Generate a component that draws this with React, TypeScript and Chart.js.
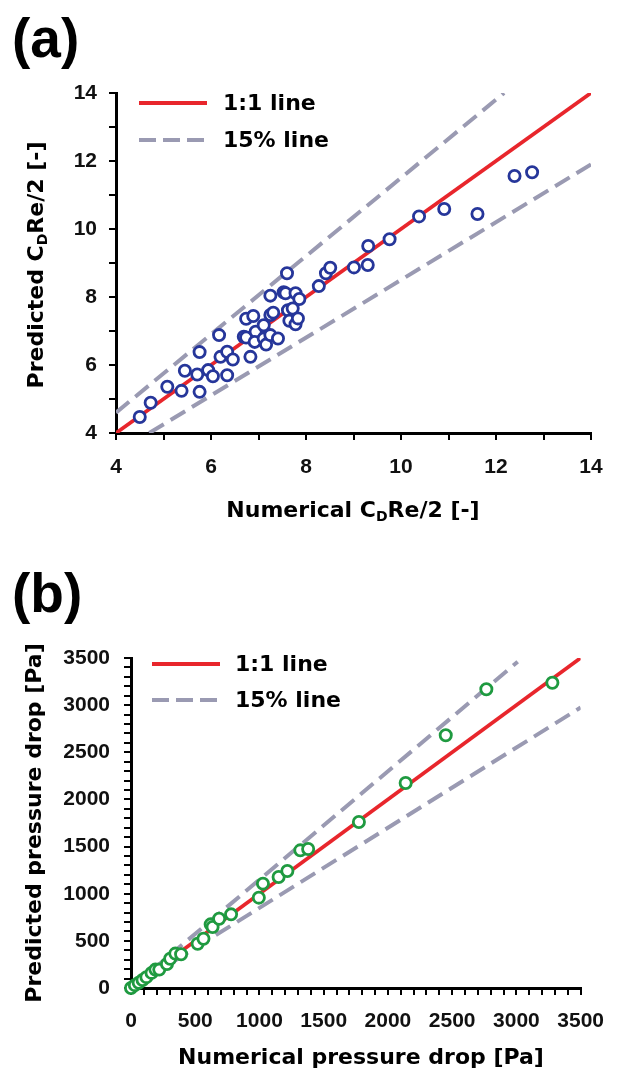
import React, { useEffect, useRef } from 'react';
import { Chart, registerables } from 'chart.js';

Chart.register(...registerables);

// ---------- Panel (a) data ----------
const numericalCd = [
  4.5, 4.73, 5.08, 5.38, 5.45, 5.76, 5.76, 5.71, 5.94, 6.04, 6.17, 6.2, 6.34, 6.34, 6.46,
  6.74, 6.89, 6.69, 6.74, 6.83, 6.94, 6.92, 7.11, 7.11, 7.16, 7.25, 7.41, 7.25, 7.31, 7.25,
  7.6, 7.53, 7.57, 7.78, 7.86, 7.62, 7.72, 7.65, 7.78, 7.83, 8.27, 8.42, 8.51, 9.01, 9.3,
  9.31, 9.76, 10.38, 10.91, 11.61, 12.39, 12.76,
];
const predictedCd = [
  4.47, 4.89, 5.36, 5.24, 5.83, 6.38, 5.21, 5.72, 5.85, 5.67, 6.88, 6.24, 6.39, 5.7, 6.16,
  7.36, 7.44, 6.83, 6.81, 6.24, 6.98, 6.68, 7.17, 6.78, 6.6, 6.88, 6.78, 7.47, 7.54, 8.04,
  8.7, 8.14, 8.11, 8.11, 7.94, 7.61, 7.66, 7.3, 7.2, 7.37, 8.32, 8.7, 8.86, 8.87, 8.94,
  9.5, 9.7, 10.37, 10.59, 10.44, 11.56, 11.67,
];
const unityAX = [4, 14];
const unityAY = [4, 14];
const upperAX = [4, 12.17];
const upperAY = [4.6, 14];
const lowerAX = [4.7, 14];
const lowerAY = [4, 11.9];
const tickLabelsA = [4, 6, 8, 10, 12, 14];

// ---------- Panel (b) data ----------
const numericalDp = [
  0, 30, 60, 90, 120, 160, 190, 220, 280, 305, 345, 390, 519, 564, 620, 635, 686, 779,
  995, 1027, 1149, 1217, 1318, 1379, 1774, 2138, 2450, 2766, 3280,
];
const predictedDp = [
  0, 30, 55, 85, 115, 160, 195, 195, 255, 310, 365, 358, 470, 523, 675, 647, 735, 781,
  958, 1107, 1177, 1241, 1460, 1474, 1761, 2174, 2680, 3168, 3238,
];
const unityBX = [0, 3500];
const unityBY = [0, 3500];
const upperBX = [0, 3010];
const upperBY = [0, 3460];
const lowerBX = [0, 3500];
const lowerBY = [0, 2975];
const tickLabelsB = [0, 500, 1000, 1500, 2000, 2500, 3000, 3500];

const legendLabels = ['1:1 line', '15% line'];

const RED = '#e8262c';
const GRAY = '#9a9ab2';
const BLUE = '#26369a';
const GREEN = '#1f9a40';
const TITLE_FONT = 'bold 22px "DejaVu Sans"';
const SUB_FONT = 'bold 14px "DejaVu Sans"';

const toPts = (xs: number[], ys: number[]) => xs.map((x, i) => ({ x, y: ys[i] }));

type Seg = { t: string; sub?: boolean };

function drawRich(ctx: CanvasRenderingContext2D, segs: Seg[], cx: number, cy: number, angle: number) {
  ctx.save();
  ctx.translate(cx, cy);
  ctx.rotate(angle);
  ctx.textBaseline = 'middle';
  ctx.textAlign = 'left';
  ctx.fillStyle = '#000';
  let total = 0;
  const widths = segs.map((s) => {
    ctx.font = s.sub ? SUB_FONT : TITLE_FONT;
    const w = ctx.measureText(s.t).width;
    total += w;
    return w;
  });
  let x = -total / 2;
  segs.forEach((s, i) => {
    ctx.font = s.sub ? SUB_FONT : TITLE_FONT;
    ctx.fillText(s.t, x, s.sub ? 6 : 0);
    x += widths[i];
  });
  ctx.restore();
}

type Decor = {
  panel: string;
  panelY: number;
  legendX0: number;
  legendX1: number;
  legendTextX: number;
  legendY: number[];
  xTitle: Seg[];
  xTitlePos: [number, number];
  yTitle: Seg[];
  yTitlePos: [number, number];
};

function makeDecor(d: Decor) {
  return {
    id: 'decor',
    afterDraw(chart: any) {
      const ctx: CanvasRenderingContext2D = chart.ctx;
      ctx.save();
      ctx.fillStyle = '#000';
      ctx.font = 'bold 55px "Liberation Sans"';
      ctx.textBaseline = 'alphabetic';
      ctx.textAlign = 'left';
      ctx.fillText(d.panel, 12, d.panelY);

      // legend
      ctx.lineCap = 'butt';
      ctx.strokeStyle = RED;
      ctx.lineWidth = 4;
      ctx.setLineDash([]);
      ctx.beginPath();
      ctx.moveTo(d.legendX0, d.legendY[0]);
      ctx.lineTo(d.legendX1, d.legendY[0]);
      ctx.stroke();
      ctx.strokeStyle = GRAY;
      ctx.setLineDash([17, 7]);
      ctx.beginPath();
      ctx.moveTo(d.legendX0, d.legendY[1]);
      ctx.lineTo(d.legendX1, d.legendY[1]);
      ctx.stroke();
      ctx.setLineDash([]);
      ctx.font = 'bold 22px "DejaVu Sans"';
      ctx.textBaseline = 'middle';
      legendLabels.forEach((l, i) => ctx.fillText(l, d.legendTextX, d.legendY[i] + 1));
      ctx.restore();

      drawRich(ctx, d.xTitle, d.xTitlePos[0], d.xTitlePos[1], 0);
      drawRich(ctx, d.yTitle, d.yTitlePos[0], d.yTitlePos[1], -Math.PI / 2);
    },
  };
}

function axis(
  min: number,
  max: number,
  step: number,
  labels: number[],
  pad: number,
  fontSize: number,
  fit: (s: any) => void,
) {
  return {
    type: 'linear',
    min,
    max,
    afterFit: fit,
    border: { display: true, color: '#000', width: 3 },
    grid: { drawOnChartArea: false, drawTicks: true, tickLength: 7, color: '#000', lineWidth: 2 },
    ticks: {
      stepSize: step,
      autoSkip: false,
      maxTicksLimit: 1000,
      maxRotation: 0,
      padding: pad,
      color: '#111',
      font: { family: '"Liberation Sans", Arial, sans-serif', size: fontSize, weight: 'bold' },
      callback: (v: any) => (labels.some((l) => Math.abs(l - Number(v)) < 1e-6) ? String(v) : ''),
    },
  };
}

function lineSet(xs: number[], ys: number[], color: string, dash: number[], width: number) {
  return {
    data: toPts(xs, ys),
    showLine: true,
    borderColor: color,
    borderWidth: width,
    borderDash: dash,
    pointRadius: 0,
    fill: false,
    order: 1,
  };
}

function markerSet(xs: number[], ys: number[], color: string) {
  return {
    data: toPts(xs, ys),
    showLine: false,
    pointRadius: 5.6,
    pointBorderWidth: 2.8,
    pointBorderColor: color,
    pointBackgroundColor: '#fff',
    clip: false,
    order: 0,
  };
}

function configA() {
  return {
    type: 'scatter',
    data: {
      datasets: [
        markerSet(numericalCd, predictedCd, BLUE),
        lineSet(upperAX, upperAY, GRAY, [17, 8], 4),
        lineSet(lowerAX, lowerAY, GRAY, [17, 8], 4),
        lineSet(unityAX, unityAY, RED, [], 3.8),
      ],
    },
    options: {
      responsive: false,
      animation: false,
      events: [],
      layout: { padding: { left: 0, top: 93, right: 27, bottom: 0 } },
      plugins: { legend: { display: false }, tooltip: { enabled: false } },
      scales: {
        x: axis(4, 14, 1, tickLabelsA, 15, 21, (s: any) => { s.height = 107; }),
        y: axis(4, 14, 1, tickLabelsA, 12, 21, (s: any) => { s.width = 116; }),
      },
    },
    plugins: [
      makeDecor({
        panel: '(a)',
        panelY: 57,
        legendX0: 139,
        legendX1: 207,
        legendTextX: 223,
        legendY: [103, 140],
        xTitle: [{ t: 'Numerical C' }, { t: 'D', sub: true }, { t: 'Re/2 [-]' }],
        xTitlePos: [353, 511],
        yTitle: [{ t: 'Predicted C' }, { t: 'D', sub: true }, { t: 'Re/2 [-]' }],
        yTitlePos: [37, 265],
      }),
    ],
  };
}

function configB() {
  return {
    type: 'scatter',
    data: {
      datasets: [
        markerSet(numericalDp, predictedDp, GREEN),
        lineSet(upperBX, upperBY, GRAY, [17, 8], 4),
        lineSet(lowerBX, lowerBY, GRAY, [17, 8], 4),
        lineSet(unityBX, unityBY, RED, [], 3.8),
      ],
    },
    options: {
      responsive: false,
      animation: false,
      events: [],
      layout: { padding: { left: 0, top: 118, right: 26, bottom: 0 } },
      plugins: { legend: { display: false }, tooltip: { enabled: false } },
      scales: {
        x: axis(0, 3500, 100, tickLabelsB, 14, 21, (s: any) => { s.height = 90; }),
        y: axis(0, 3500, 100, tickLabelsB, 14, 21, (s: any) => { s.width = 131; }),
      },
    },
    plugins: [
      makeDecor({
        panel: '(b)',
        panelY: 72,
        legendX0: 152,
        legendX1: 220,
        legendTextX: 235,
        legendY: [124, 160],
        xTitle: [{ t: 'Numerical pressure drop [Pa]' }],
        xTitlePos: [361, 518],
        yTitle: [{ t: 'Predicted pressure drop [Pa]' }],
        yTitlePos: [35, 283],
      }),
    ],
  };
}

function Panel({ make, top, height }: { make: () => any; top: number; height: number }) {
  const ref = useRef<HTMLCanvasElement>(null);
  useEffect(() => {
    const chart = new Chart(ref.current as HTMLCanvasElement, make());
    return () => chart.destroy();
  }, []);
  return (
    <canvas
      ref={ref}
      width={618}
      height={height}
      style={{ position: 'absolute', left: 0, top, width: 618, height, display: 'block' }}
    />
  );
}

export default function App() {
  return (
    <div style={{ position: 'absolute', left: 0, top: 0, width: 618, height: 1078, background: '#fff' }}>
      <Panel make={configA} top={0} height={540} />
      <Panel make={configB} top={540} height={538} />
    </div>
  );
}
